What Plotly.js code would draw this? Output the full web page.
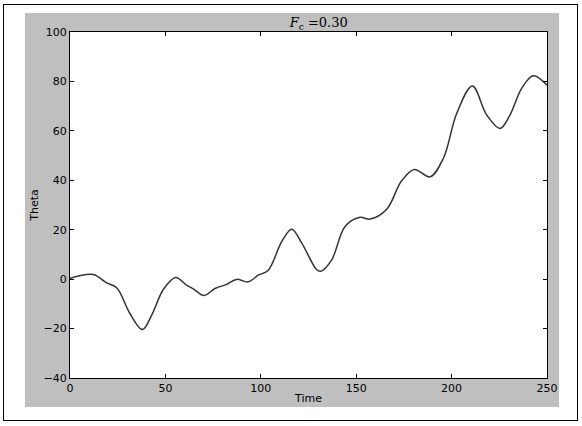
<!DOCTYPE html>
<html>
<head>
<meta charset="utf-8">
<script src="https://cdn.plot.ly/plotly-3.0.1.min.js"></script>
<style>
  body { margin: 0; background: #fff; width: 582px; height: 426px; position: relative; overflow: hidden; }
  #frame { position: absolute; left: 3px; top: 4px; width: 573px; height: 415px; border: 1.5px solid #000; }
  #chart { position: absolute; left: 25px; top: 13px; width: 534px; height: 394px; }
</style>
</head>
<body>
<div id="frame"></div>
<div id="chart"></div>
<script>
// values
const time = [0, 12.2, 19.2, 24.5, 31.4, 37.9, 42.8, 48.9, 55.4, 61.1, 64.6, 70.2, 76, 82.1, 87.3, 93.4,
  98.7, 103.9, 110.9, 116.2, 121.4, 129.2, 131.4, 137.1, 144.1, 152, 157.2, 166, 173.8, 180.5,
  188.7, 195.7, 202.7, 210.9, 218.4, 225.4, 230.6, 236.7, 242.8, 250];
const theta = [0.3, 1.9, -1.5, -3.5, -13.9, -20.4, -14.6, -4.2, 0.7, -2.4, -3.9, -6.6, -3.8, -2.1, -0.1, -1.1,
  1.6, 3.6, 15.1, 20.2, 14.7, 3.9, 3.2, 7.7, 21.2, 25.0, 24.3, 28.3, 39.8, 44.4,
  41.4, 48.9, 67.1, 78.1, 66.4, 61.0, 66.4, 77.2, 82.3, 78.5];

const tickFont = { family: "DejaVu Sans", size: 11, color: "#000" };

const axisStyle = {
  showline: true,
  linecolor: "#000",
  linewidth: 1,
  mirror: "ticks",
  ticks: "inside",
  ticklen: 4,
  tickcolor: "#000",
  showgrid: false,
  zeroline: false,
  tickfont: tickFont,
};

Plotly.newPlot("chart", [
  {
    x: time,
    y: theta,
    mode: "lines",
    line: { color: "#333333", width: 1.5, shape: "spline", smoothing: 1 },
    hoverinfo: "skip",
  },
], {
  width: 534,
  height: 394,
  paper_bgcolor: "#bfbfbf",
  plot_bgcolor: "#ffffff",
  margin: { l: 45, r: 12, t: 19, b: 29 },
  showlegend: false,
  title: {
    text: "<i>F</i><sub>c</sub> =0.30",
    font: { family: "DejaVu Serif", size: 13, color: "#000" },
    x: 0.55, xanchor: "center", y: 0.975, yanchor: "middle",
  },
  xaxis: Object.assign({}, axisStyle, {
    range: [0, 250],
    tickvals: [0, 50, 100, 150, 200, 250],
    title: { text: "Time", font: tickFont, standoff: 0 },
  }),
  yaxis: Object.assign({}, axisStyle, {
    range: [-40, 100],
    tickvals: [-40, -20, 0, 20, 40, 60, 80, 100],
    ticktext: ["\u221240", "\u221220", "0", "20", "40", "60", "80", "100"],
    title: { text: "Theta", font: tickFont, standoff: 2 },
  }),
}, { displayModeBar: false, staticPlot: true });
</script>
</body>
</html>
